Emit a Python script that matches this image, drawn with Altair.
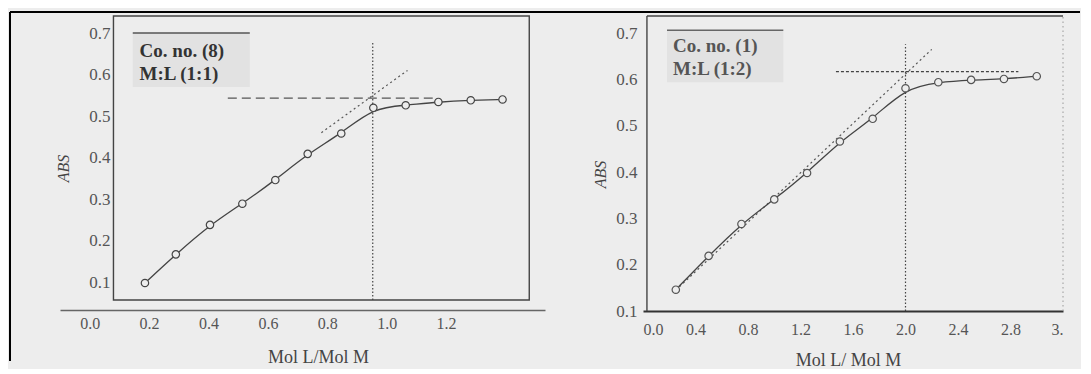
import altair as alt
import pandas as pd

BG = "#ededed"

# ---------------- data: left panel (Co. no. (8), M:L 1:1) ----------------
l_x = [0.186, 0.290, 0.405, 0.514, 0.625, 0.734, 0.847, 0.955, 1.064, 1.174, 1.283, 1.390]
l_y = [0.098, 0.167, 0.238, 0.289, 0.346, 0.409, 0.458, 0.520, 0.526, 0.534, 0.538, 0.540]
l_xticks = [0.0, 0.2, 0.4, 0.6, 0.8, 1.0, 1.2]
l_labels = ["Co. no. (8)", "M:L (1:1)"]
l_end = 0.953            # vertical dotted line (stoichiometric ratio)
l_plateau = 0.543        # horizontal dashed line
l_tan_x = [0.78, 1.07]   # tangent (dotted)
l_tan_y = [0.46, 0.61]

# ---------------- data: right panel (Co. no. (1), M:L 1:2) ----------------
r_x = [0.25, 0.50, 0.75, 1.00, 1.25, 1.50, 1.75, 2.00, 2.25, 2.50, 2.75, 3.00]
r_y = [0.146, 0.219, 0.288, 0.341, 0.398, 0.466, 0.515, 0.581, 0.594, 0.599, 0.601, 0.607]
r_xticks = [0.0, 0.4, 0.8, 1.2, 1.6, 2.0, 2.4, 2.8, 3.2]
r_labels = ["Co. no. (1)", "M:L (1:2)"]
r_end = 2.0
r_plateau = 0.617
r_tan_x = [0.25, 2.2]
r_tan_y = [0.145, 0.665]

y_ticks = [0.1, 0.2, 0.3, 0.4, 0.5, 0.6, 0.7]
x_title_l = "Mol L/Mol M"
x_title_r = "Mol L/ Mol M"
y_title = "ABS"

SERIF = "Liberation Serif"


def make_enc(xs, xa, ys, ya):
    def X(f):
        return alt.X(f, type="quantitative", scale=xs, axis=xa)

    def Y(f):
        return alt.Y(f, type="quantitative", scale=ys, axis=ya)
    return X, Y


def one(**kw):
    return pd.DataFrame({k: [v] for k, v in kw.items()})


# ======================= LEFT PANEL =======================
xs_l = alt.Scale(domain=[-0.1, 1.533], nice=False, zero=False)
ys_l = alt.Scale(domain=[0.033, 0.741], nice=False, zero=False)
xa_l = alt.Axis(values=l_xticks, format=".1f", title=x_title_l, grid=False, ticks=False,
                domainColor="#666", domainWidth=1.5, labelFont=SERIF, labelFontSize=16,
                labelColor="#555", labelPadding=5, titleFont=SERIF, titleFontSize=18,
                titleFontWeight="normal", titleColor="#444", titleX=258, titleY=47,
                titleBaseline="middle", titleAlign="center")
ya_l = alt.Axis(values=y_ticks, format=".1f", title=y_title, grid=False, ticks=False,
                domain=False, offset=-54, labelFont=SERIF, labelFontSize=17,
                labelColor="#555", labelPadding=4, titleFont=SERIF, titleFontSize=16,
                titleFontStyle="italic", titleFontWeight="normal", titleColor="#444",
                titleX=-51, titleY=152, titleBaseline="middle", titleAlign="center")
X, Y = make_enc(xs_l, xa_l, ys_l, ya_l)

pts_l = pd.DataFrame({"x": l_x, "y": l_y})
lbl_l = pd.DataFrame({"x": [0.168, 0.168], "y": [0.656, 0.602], "t": l_labels})

left = alt.layer(
    alt.Chart(one(x=0.145, x2=0.539, y=0.57, y2=0.70)).mark_rect(fill="#e2e2e2").encode(
        x=X("x"), x2="x2", y=Y("y"), y2="y2"),
    alt.Chart(one(x=0.145, x2=0.539, y=0.70)).mark_rule(color="#555", strokeWidth=1.5).encode(
        x=X("x"), x2="x2", y=Y("y")),
    alt.Chart(one(x=0.08, x2=1.48, y=0.057, y2=0.741)).mark_rect(
        fillOpacity=0, stroke="#444", strokeWidth=1.4).encode(
        x=X("x"), x2="x2", y=Y("y"), y2="y2"),
    alt.Chart(one(x=l_end, y=0.057, y2=0.676)).mark_rule(
        color="#444", strokeWidth=1.2, strokeDash=[1.5, 2]).encode(
        x=X("x"), y=Y("y"), y2="y2"),
    alt.Chart(one(x=0.465, x2=1.155, y=l_plateau)).mark_rule(
        color="#555", strokeWidth=1.2, strokeDash=[9, 5]).encode(
        x=X("x"), x2="x2", y=Y("y")),
    alt.Chart(one(x=l_tan_x[0], x2=l_tan_x[1], y=l_tan_y[0], y2=l_tan_y[1])).mark_rule(
        color="#555", strokeWidth=1.2, strokeDash=[2, 3]).encode(
        x=X("x"), x2="x2", y=Y("y"), y2="y2"),
    alt.Chart(pts_l).mark_line(interpolate="basis", color="#444", strokeWidth=1.3).encode(
        x=X("x"), y=Y("y")),
    alt.Chart(pts_l).mark_point(shape="circle", filled=True, fill=BG, stroke="#444",
                                strokeWidth=1.2, size=55, opacity=1).encode(
        x=X("x"), y=Y("y")),
    alt.Chart(lbl_l).mark_text(align="left", baseline="middle", font=SERIF,
                               fontWeight="bold", fontSize=19, color="#333").encode(
        x=X("x"), y=Y("y"), text="t:N"),
    # scan border lines (decoration)
    alt.Chart(one(a=0)).mark_rule(color="black", strokeWidth=2).encode(
        x=alt.value(-50), x2=alt.value(1020), y=alt.value(-4)),
    alt.Chart(one(a=0)).mark_rule(color="black", strokeWidth=2).encode(
        x=alt.value(-50), y=alt.value(-4), y2=alt.value(345)),
).properties(width=485, height=294)

# ======================= RIGHT PANEL =======================
xs_r = alt.Scale(domain=[0.0, 3.2], nice=False, zero=False)
ys_r = alt.Scale(domain=[0.1, 0.737], nice=False, zero=False)
xa_r = alt.Axis(values=r_xticks, labelExpr="datum.value > 3.1 ? '3.' : format(datum.value, '.1f')",
                title=x_title_r, grid=False, ticks=False,
                domainColor="#333", domainWidth=2, labelFont=SERIF, labelFontSize=16,
                labelColor="#555", labelPadding=10, titleFont=SERIF, titleFontSize=18,
                titleFontWeight="normal", titleColor="#444", titleX=205, titleY=49,
                titleBaseline="middle", titleAlign="center")
ya_r = alt.Axis(values=y_ticks, format=".1f", title=y_title, grid=False, ticks=False,
                domain=False, labelFont=SERIF, labelFontSize=17,
                labelColor="#555", labelPadding=6, titleFont=SERIF, titleFontSize=16,
                titleFontStyle="italic", titleFontWeight="normal", titleColor="#444",
                titleX=-43, titleY=158, titleBaseline="middle", titleAlign="center")
X, Y = make_enc(xs_r, xa_r, ys_r, ya_r)

pts_r = pd.DataFrame({"x": r_x, "y": r_y})
lbl_r = pd.DataFrame({"x": [0.229, 0.229], "y": [0.673, 0.622], "t": r_labels})

right = alt.layer(
    alt.Chart(one(x=0.183, x2=1.069, y=0.594, y2=0.706)).mark_rect(fill="#e2e2e2").encode(
        x=X("x"), x2="x2", y=Y("y"), y2="y2"),
    alt.Chart(one(x=0.183, x2=1.069, y=0.706)).mark_rule(color="#666", strokeWidth=1.5).encode(
        x=X("x"), x2="x2", y=Y("y")),
    alt.Chart(one(x=0.03, y=0.1, y2=0.737)).mark_rule(color="#444", strokeWidth=1.4).encode(
        x=X("x"), y=Y("y"), y2="y2"),
    alt.Chart(one(x=0.03, x2=3.2, y=0.737)).mark_rule(color="#444", strokeWidth=1.4).encode(
        x=X("x"), x2="x2", y=Y("y")),
    alt.Chart(one(x=3.2, y=0.1, y2=0.737)).mark_rule(
        color="#999", strokeWidth=1, strokeDash=[1.5, 3]).encode(
        x=X("x"), y=Y("y"), y2="y2"),
    alt.Chart(one(x=r_end, y=0.1, y2=0.676)).mark_rule(
        color="#444", strokeWidth=1.2, strokeDash=[1.5, 2]).encode(
        x=X("x"), y=Y("y"), y2="y2"),
    alt.Chart(one(x=1.47, x2=2.86, y=r_plateau)).mark_rule(
        color="#444", strokeWidth=1.3, strokeDash=[3, 2]).encode(
        x=X("x"), x2="x2", y=Y("y")),
    alt.Chart(one(x=r_tan_x[0], x2=r_tan_x[1], y=r_tan_y[0], y2=r_tan_y[1])).mark_rule(
        color="#555", strokeWidth=1.2, strokeDash=[2, 3]).encode(
        x=X("x"), x2="x2", y=Y("y"), y2="y2"),
    alt.Chart(pts_r).mark_line(interpolate="basis", color="#444", strokeWidth=1.3).encode(
        x=X("x"), y=Y("y")),
    alt.Chart(pts_r).mark_point(shape="circle", filled=True, fill=BG, stroke="#555",
                                strokeWidth=1.2, size=55, opacity=1).encode(
        x=X("x"), y=Y("y")),
    alt.Chart(lbl_r).mark_text(align="left", baseline="middle", font=SERIF,
                               fontWeight="bold", fontSize=19, color="#555").encode(
        x=X("x"), y=Y("y"), text="t:N"),
).properties(width=420, height=295)

chart = alt.hconcat(left, right, spacing=98, bounds="flush").properties(
    padding={"left": 1, "top": 3, "right": 0, "bottom": 0},
    background=BG,
).configure_view(strokeWidth=0)

chart.save("out.html", embed_options={"renderer": "svg", "actions": False})
